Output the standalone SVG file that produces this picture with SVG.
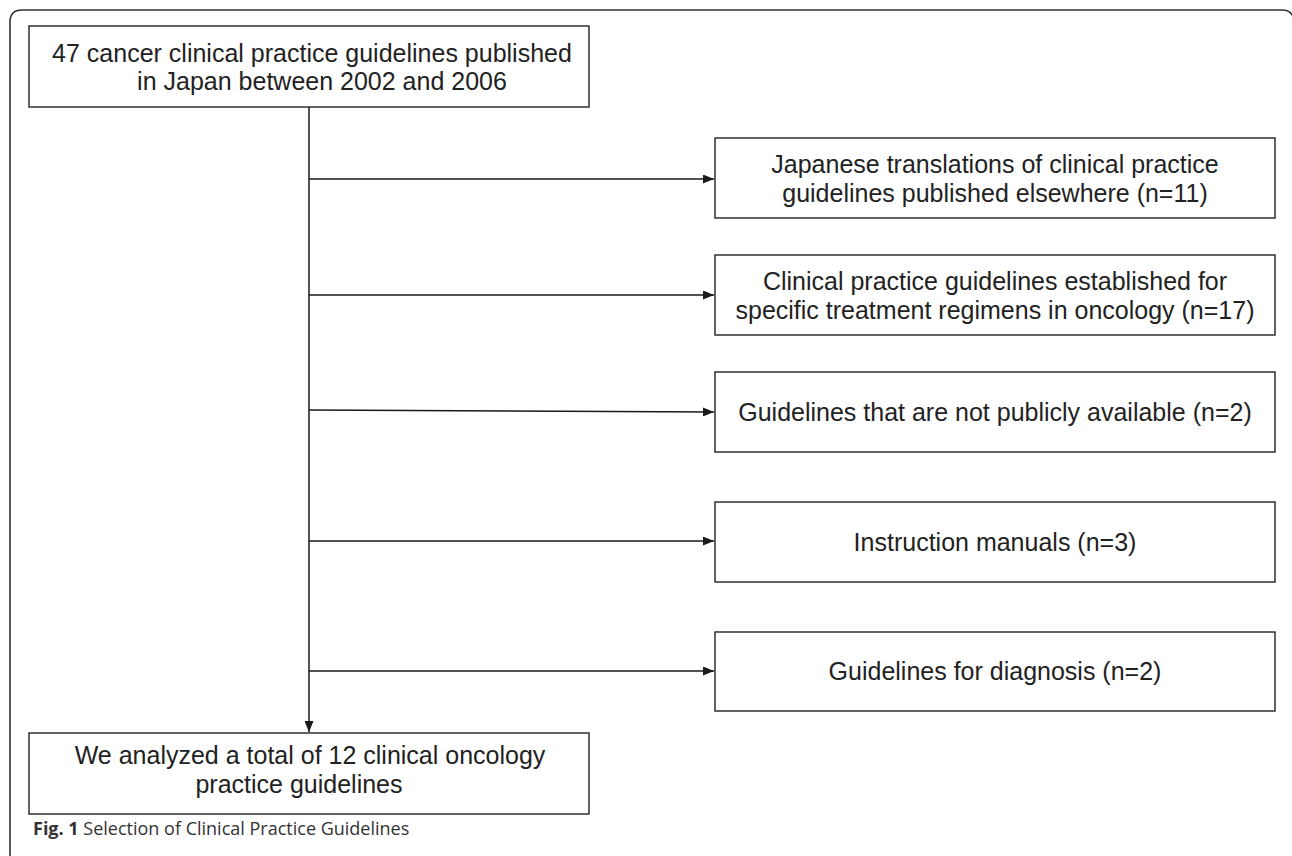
<svg xmlns="http://www.w3.org/2000/svg" width="1292" height="856" viewBox="0 0 1292 856">
<style>
.box{fill:#fff;stroke:#222;stroke-width:1.4}
.t{font-family:"Liberation Sans",Arial,sans-serif;font-size:25px;fill:#222;text-anchor:middle}
.c{stroke:#1a1a1a;stroke-width:1.5;fill:none}
.cap{font-family:"Open Sans","Noto Sans",sans-serif;font-size:18px;fill:#333}
</style>
<defs>
<marker id="ah" markerWidth="11" markerHeight="9" refX="11" refY="4.5" orient="auto" markerUnits="userSpaceOnUse">
<path d="M0,0 L11,4.5 L0,9 Z" fill="#1a1a1a"/>
</marker>
</defs>
<rect width="1292" height="856" fill="#fff"/>
<path d="M10,856 V22 Q10,10 22,10 H1282 Q1291,10 1293,17 V856" fill="none" stroke="#333" stroke-width="1.6"/>

<g id="connectors">
<path class="c" d="M309,107 V732" marker-end="url(#ah)"/>
<path class="c" d="M309,179 H714" marker-end="url(#ah)"/>
<path class="c" d="M309,295 H714" marker-end="url(#ah)"/>
<path class="c" d="M309,410 L714,412" marker-end="url(#ah)"/>
<path class="c" d="M309,541 H714" marker-end="url(#ah)"/>
<path class="c" d="M309,671 H714" marker-end="url(#ah)"/>
</g>

<g id="n-start">
<rect class="box" x="29" y="26" width="560" height="81"/>
<text class="t" x="312" y="62">47 cancer clinical practice guidelines published</text>
<text class="t" x="322" y="90">in Japan between 2002 and 2006</text>
</g>

<g id="n-translations">
<rect class="box" x="715" y="138" width="560" height="80"/>
<text class="t" x="995" y="173">Japanese translations of clinical practice</text>
<text class="t" x="995" y="202">guidelines published elsewhere (n=11)</text>
</g>

<g id="n-regimens">
<rect class="box" x="715" y="255" width="560" height="80"/>
<text class="t" x="995" y="290">Clinical practice guidelines established for</text>
<text class="t" x="995" y="319">specific treatment regimens in oncology (n=17)</text>
</g>

<g id="n-notpublic">
<rect class="box" x="715" y="372" width="560" height="80"/>
<text class="t" x="995" y="421">Guidelines that are not publicly available (n=2)</text>
</g>

<g id="n-manuals">
<rect class="box" x="715" y="502" width="560" height="80"/>
<text class="t" x="995" y="551">Instruction manuals (n=3)</text>
</g>

<g id="n-diagnosis">
<rect class="box" x="715" y="632" width="560" height="79"/>
<text class="t" x="995" y="680">Guidelines for diagnosis (n=2)</text>
</g>

<g id="n-result">
<rect class="box" x="29" y="733" width="560" height="81"/>
<text class="t" x="310" y="764">We analyzed a total of 12 clinical oncology</text>
<text class="t" x="299" y="793">practice guidelines</text>
</g>

<text class="cap" x="33" y="835"><tspan font-weight="bold">Fig. 1</tspan> Selection of Clinical Practice Guidelines</text>
</svg>
